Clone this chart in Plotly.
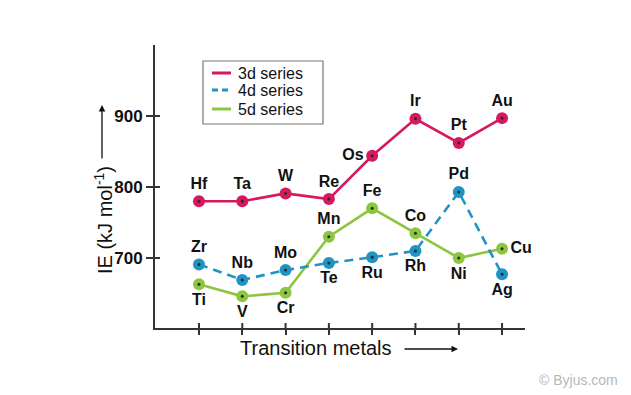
import plotly.graph_objects as go

# ---- data ----
positions = [0, 1, 2, 3, 4, 5, 6, 7]

series_names = ["3d series", "4d series", "5d series"]

top_labels = ["Hf", "Ta", "W", "Re", "Os", "Ir", "Pt", "Au"]
top_values = [780, 780, 791, 783, 844, 896, 862, 897]

mid_labels = ["Zr", "Nb", "Mo", "Te", "Ru", "Rh", "Pd", "Ag"]
mid_values = [691, 669, 683, 693, 701, 710, 793, 677]

low_labels = ["Ti", "V", "Cr", "Mn", "Fe", "Co", "Ni", "Cu"]
low_values = [663, 646, 651, 730, 770, 735, 700, 713]

y_ticks = [700, 800, 900]

# ---- styles ----
PINK = "#d6185f"
BLUE = "#1f93c4"
GREEN = "#8cc63f"
DOT = "#2a2a2a"
AXIS = "#333333"
INK = "#111111"
FONT = "Liberation Sans, Arial, sans-serif"

PW, PH = 370.0, 283.0          # plot area size in px
L, T = 155.0, 45.0             # plot area origin on screen

def px(sx):
    return (sx - L) / PW

def py(sy):
    return 1 - (sy - T) / PH

top_pos = ["top center"] * 4 + ["middle left", "top center", "top center", "top center"]
mid_pos = ["top center", "top center", "top center", "bottom center",
           "bottom center", "bottom center", "top center", "bottom center"]
low_pos = ["bottom center", "bottom center", "bottom center", "top center",
           "top center", "top center", "bottom center", "middle right"]

fig = go.Figure()

def add_series(name, vals, labels, color, dash, tpos):
    fig.add_trace(go.Scatter(
        x=positions, y=vals, mode="lines+markers+text", name=name,
        text=labels, textposition=tpos, texttemplate="<b>%{text}</b>",
        textfont=dict(size=16, color=INK, family=FONT),
        line=dict(color=color, width=2.6, dash=dash),
        marker=dict(size=12, color=color),
        showlegend=False, hoverinfo="skip", cliponaxis=False))
    fig.add_trace(go.Scatter(
        x=positions, y=vals, mode="markers",
        marker=dict(size=3, color=DOT),
        showlegend=False, hoverinfo="skip", cliponaxis=False))

add_series(series_names[2], low_values, low_labels, GREEN, "solid", low_pos)
add_series(series_names[1], mid_values, mid_labels, BLUE, "9px,6px", mid_pos)
add_series(series_names[0], top_values, top_labels, PINK, "solid", top_pos)

shapes = []
# inner halves of the crossing tick marks
for v in y_ticks:
    shapes.append(dict(type="line", xref="paper", yref="y", x0=0, x1=5 / PW,
                       y0=v, y1=v, line=dict(color=AXIS, width=2)))
for p in positions:
    shapes.append(dict(type="line", xref="x", yref="paper", x0=p, x1=p,
                       y0=0, y1=5 / PH, line=dict(color=AXIS, width=2)))

# legend box
shapes.append(dict(type="rect", xref="paper", yref="paper",
                   x0=px(203), x1=px(323), y0=py(124), y1=py(61),
                   line=dict(color="#777777", width=1.2), fillcolor="white",
                   layer="below"))
legend_rows = [73, 90, 109]
legend_colors = [PINK, BLUE, GREEN]
legend_dash = ["solid", "6px,4px", "solid"]
annotations = []
for name, color, dash, row in zip(series_names, legend_colors, legend_dash, legend_rows):
    shapes.append(dict(type="line", xref="paper", yref="paper",
                       x0=px(212), x1=px(231), y0=py(row), y1=py(row),
                       line=dict(color=color, width=3, dash=dash)))
    annotations.append(dict(text=name, xref="paper", yref="paper",
                            x=px(236), y=py(row), xanchor="left", yanchor="middle",
                            showarrow=False,
                            font=dict(size=16, color=INK, family=FONT)))

annotations += [
    dict(text="IE (kJ mol<sup>-1</sup>)", xref="paper", yref="paper",
         x=px(103), y=py(220), xanchor="center", yanchor="middle",
         textangle=-90, showarrow=False,
         font=dict(size=20, color=INK, family=FONT)),
    dict(text="", xref="paper", yref="paper", x=px(102), y=py(105),
         ax=0, ay=55, axref="pixel", ayref="pixel", showarrow=True,
         arrowhead=2, arrowsize=1, arrowwidth=1.3, arrowcolor=INK),
    dict(text="Transition metals", xref="paper", yref="paper",
         x=px(316), y=py(348), xanchor="center", yanchor="middle",
         showarrow=False,
         font=dict(size=20, color=INK, family=FONT)),
    dict(text="", xref="paper", yref="paper", x=px(458), y=py(349),
         ax=-55, ay=0, axref="pixel", ayref="pixel", showarrow=True,
         arrowhead=2, arrowsize=1, arrowwidth=1.3, arrowcolor=INK),
    dict(text="© Byjus.com", xref="paper", yref="paper",
         x=px(578), y=py(380), xanchor="center", yanchor="middle",
         showarrow=False,
         font=dict(size=14, color="#b8b8b8", family=FONT)),
]

# the page body adds an 8px offset, so the figure is 8px smaller
fig.update_layout(
    width=623, height=387,
    margin=dict(l=L - 8, r=623 - (L - 8) - PW, t=T - 8, b=387 - (T - 8) - PH),
    paper_bgcolor="white", plot_bgcolor="white",
    showlegend=False,
    xaxis=dict(range=[-1.016, 7.53], showgrid=False, zeroline=False,
               showline=True, linecolor=AXIS, linewidth=2,
               tickvals=positions, showticklabels=False, automargin=False,
               ticks="outside", ticklen=5, tickwidth=2, tickcolor=AXIS),
    yaxis=dict(range=[601.4, 1000], showgrid=False, zeroline=False,
               showline=True, linecolor=AXIS, linewidth=2, automargin=False,
               tickvals=y_ticks, ticks="outside", ticklen=7, tickwidth=2,
               tickcolor=AXIS,
               tickfont=dict(size=17, color=INK, family=FONT, weight="bold")),
    shapes=shapes,
    annotations=annotations,
)

fig.write_html("out.html")
